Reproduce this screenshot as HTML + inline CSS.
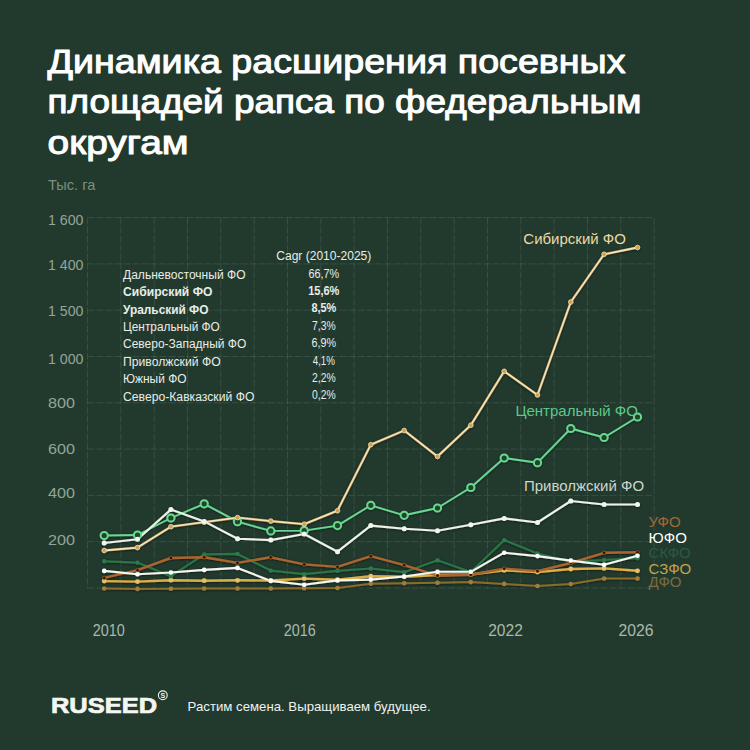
<!DOCTYPE html>
<html lang="ru"><head><meta charset="utf-8"><title>Динамика расширения посевных площадей рапса</title>
<style>
html,body{margin:0;padding:0;background:#223a2e;}
body{width:750px;height:750px;overflow:hidden;position:relative;}
svg{position:absolute;left:0;top:0;display:block;}
text{font-family:"Liberation Sans",Arial,sans-serif;}
.t{font-size:33px;fill:#ffffff;stroke:#ffffff;stroke-width:1.0px;stroke-linejoin:round;}
.g{stroke:#ffffff;stroke-opacity:0.10;stroke-width:1;stroke-dasharray:7 2;}
.yl{font-size:15.5px;fill:#93a596;}
.xl{font-size:16px;fill:#a9b9aa;}
.tb{font-size:12.5px;fill:#e8ede8;}
.b{font-weight:bold;}
.v{font-size:12px;}
.sl{font-size:15px;}
</style></head><body>
<svg width="750" height="750" viewBox="0 0 750 750">
<defs><filter id="sh" x="-5%" y="-5%" width="110%" height="110%"><feDropShadow dx="0" dy="0.5" stdDeviation="0.9" flood-color="#0a160f" flood-opacity="0.7"/></filter></defs>
<rect width="750" height="750" fill="#223a2e"/>
<text x="47.5" y="73.3" class="t" textLength="578" lengthAdjust="spacingAndGlyphs">Динамика расширения посевных</text>
<text x="47.5" y="113.3" class="t" textLength="594" lengthAdjust="spacingAndGlyphs">площадей рапса по федеральным</text>
<text x="47.5" y="153.5" class="t" textLength="141" lengthAdjust="spacingAndGlyphs">округам</text>
<text x="48" y="190.3" style="font-size:15px;fill:#7c8f80" textLength="47.3" lengthAdjust="spacingAndGlyphs">Тыс. га</text>
<line x1="87.5" y1="588.0" x2="654.2" y2="588.0" class="g"/>
<line x1="87.5" y1="541.7" x2="654.2" y2="541.7" class="g"/>
<line x1="87.5" y1="495.4" x2="654.2" y2="495.4" class="g"/>
<line x1="87.5" y1="449.1" x2="654.2" y2="449.1" class="g"/>
<line x1="87.5" y1="402.8" x2="654.2" y2="402.8" class="g"/>
<line x1="87.5" y1="356.5" x2="654.2" y2="356.5" class="g"/>
<line x1="87.5" y1="310.2" x2="654.2" y2="310.2" class="g"/>
<line x1="87.5" y1="263.9" x2="654.2" y2="263.9" class="g"/>
<line x1="87.5" y1="217.6" x2="654.2" y2="217.6" class="g"/>
<line x1="87.5" y1="217.6" x2="87.5" y2="588" class="g"/>
<line x1="120.8" y1="217.6" x2="120.8" y2="588" class="g"/>
<line x1="154.2" y1="217.6" x2="154.2" y2="588" class="g"/>
<line x1="187.5" y1="217.6" x2="187.5" y2="588" class="g"/>
<line x1="220.8" y1="217.6" x2="220.8" y2="588" class="g"/>
<line x1="254.1" y1="217.6" x2="254.1" y2="588" class="g"/>
<line x1="287.5" y1="217.6" x2="287.5" y2="588" class="g"/>
<line x1="320.8" y1="217.6" x2="320.8" y2="588" class="g"/>
<line x1="354.1" y1="217.6" x2="354.1" y2="588" class="g"/>
<line x1="387.5" y1="217.6" x2="387.5" y2="588" class="g"/>
<line x1="420.8" y1="217.6" x2="420.8" y2="588" class="g"/>
<line x1="454.1" y1="217.6" x2="454.1" y2="588" class="g"/>
<line x1="487.5" y1="217.6" x2="487.5" y2="588" class="g"/>
<line x1="520.8" y1="217.6" x2="520.8" y2="588" class="g"/>
<line x1="554.1" y1="217.6" x2="554.1" y2="588" class="g"/>
<line x1="587.5" y1="217.6" x2="587.5" y2="588" class="g"/>
<line x1="620.8" y1="217.6" x2="620.8" y2="588" class="g"/>
<line x1="654.1" y1="217.6" x2="654.1" y2="588" class="g"/>
<text x="48" y="225.0" class="yl" textLength="35.5" lengthAdjust="spacingAndGlyphs">1 600</text>
<text x="48" y="269.8" class="yl" textLength="35.5" lengthAdjust="spacingAndGlyphs">1 400</text>
<text x="48" y="315.7" class="yl" textLength="35.5" lengthAdjust="spacingAndGlyphs">1 500</text>
<text x="48" y="363.8" class="yl" textLength="35.5" lengthAdjust="spacingAndGlyphs">1 000</text>
<text x="48" y="408.1" class="yl" textLength="27" lengthAdjust="spacingAndGlyphs">800</text>
<text x="48" y="454.0" class="yl" textLength="27" lengthAdjust="spacingAndGlyphs">600</text>
<text x="48" y="498.2" class="yl" textLength="27" lengthAdjust="spacingAndGlyphs">400</text>
<text x="48" y="545.1" class="yl" textLength="27" lengthAdjust="spacingAndGlyphs">200</text>
<text x="323.8" y="260" class="tb" text-anchor="middle" textLength="95" lengthAdjust="spacingAndGlyphs">Cagr (2010-2025)</text>
<text x="123" y="278.8" class="tb" textLength="122.5" lengthAdjust="spacingAndGlyphs">Дальневосточный ФО</text>
<text x="323.8" y="277.6" class="tb v" text-anchor="middle" textLength="30.8" lengthAdjust="spacingAndGlyphs">66,7%</text>
<text x="123" y="296.2" class="tb b" textLength="89.5" lengthAdjust="spacingAndGlyphs">Сибирский ФО</text>
<text x="323.8" y="295.0" class="tb b v" text-anchor="middle" textLength="31.2" lengthAdjust="spacingAndGlyphs">15,6%</text>
<text x="123" y="313.6" class="tb b" textLength="85.5" lengthAdjust="spacingAndGlyphs">Уральский ФО</text>
<text x="323.8" y="312.4" class="tb b v" text-anchor="middle" textLength="24.8" lengthAdjust="spacingAndGlyphs">8,5%</text>
<text x="123" y="330.9" class="tb" textLength="96.8" lengthAdjust="spacingAndGlyphs">Центральный ФО</text>
<text x="323.8" y="329.7" class="tb v" text-anchor="middle" textLength="23.6" lengthAdjust="spacingAndGlyphs">7,3%</text>
<text x="123" y="348.3" class="tb" textLength="123.3" lengthAdjust="spacingAndGlyphs">Северо-Западный ФО</text>
<text x="323.8" y="347.1" class="tb v" text-anchor="middle" textLength="24.6" lengthAdjust="spacingAndGlyphs">6,9%</text>
<text x="123" y="365.7" class="tb" textLength="97.7" lengthAdjust="spacingAndGlyphs">Приволжский ФО</text>
<text x="323.8" y="364.5" class="tb v" text-anchor="middle" textLength="22.2" lengthAdjust="spacingAndGlyphs">4,1%</text>
<text x="123" y="383.1" class="tb" textLength="63.5" lengthAdjust="spacingAndGlyphs">Южный ФО</text>
<text x="323.8" y="381.9" class="tb v" text-anchor="middle" textLength="23.6" lengthAdjust="spacingAndGlyphs">2,2%</text>
<text x="123" y="400.5" class="tb" textLength="131.4" lengthAdjust="spacingAndGlyphs">Северо-Кавказский ФО</text>
<text x="323.8" y="399.3" class="tb v" text-anchor="middle" textLength="23.6" lengthAdjust="spacingAndGlyphs">0,2%</text>
<g filter="url(#sh)">
<polyline points="104.2,588.5 137.5,588.9 170.9,588.7 204.2,588.5 237.5,588.5 270.8,588.5 304.2,588.3 337.5,588.0 370.8,583.7 404.2,583.2 437.5,582.7 470.8,582.1 504.2,583.9 537.5,586.0 570.8,584.0 604.1,578.6 637.5,578.6" fill="none" stroke="#8a6c2c" stroke-width="2.0" stroke-linejoin="round" stroke-linecap="round"/>
<polyline points="104.2,581.1 137.5,581.6 170.9,580.2 204.2,580.7 237.5,580.3 270.8,580.5 304.2,578.6 337.5,579.7 370.8,576.2 404.2,576.8 437.5,575.0 470.8,574.5 504.2,570.3 537.5,572.1 570.8,569.0 604.1,568.4 637.5,570.8" fill="none" stroke="#dcae44" stroke-width="2.4" stroke-linejoin="round" stroke-linecap="round"/>
<polyline points="104.2,561.3 137.5,562.6 170.9,576.2 204.2,554.4 237.5,553.9 270.8,570.6 304.2,574.2 337.5,570.9 370.8,568.5 404.2,572.2 437.5,560.2 470.8,572.0 504.2,540.1 537.5,553.5 570.8,561.8 604.1,560.0 637.5,558.2" fill="none" stroke="#297446" stroke-width="2.2" stroke-linejoin="round" stroke-linecap="round"/>
<polyline points="104.2,577.9 137.5,570.1 170.9,558.0 204.2,557.3 237.5,562.9 270.8,557.3 304.2,564.4 337.5,566.9 370.8,556.2 404.2,565.1 437.5,575.7 470.8,574.7 504.2,568.6 537.5,571.1 570.8,563.0 604.1,552.8 637.5,552.2" fill="none" stroke="#a9652e" stroke-width="2.4" stroke-linejoin="round" stroke-linecap="round"/>
<polyline points="104.2,570.9 137.5,574.3 170.9,572.5 204.2,569.9 237.5,567.9 270.8,580.9 304.2,584.7 337.5,580.4 370.8,579.6 404.2,576.5 437.5,571.8 470.8,571.8 504.2,552.7 537.5,556.1 570.8,560.6 604.1,564.8 637.5,555.8" fill="none" stroke="#f2f5f0" stroke-width="2.1" stroke-linejoin="round" stroke-linecap="round"/>
<polyline points="104.2,535.5 137.5,535.0 170.9,518.0 204.2,503.8 237.5,521.7 270.8,530.9 304.2,530.6 337.5,525.6 370.8,505.3 404.2,515.3 437.5,508.0 470.8,487.5 504.2,458.0 537.5,462.7 570.8,428.5 604.1,437.5 637.5,417.0" fill="none" stroke="#68d892" stroke-width="1.9" stroke-linejoin="round" stroke-linecap="round"/>
<polyline points="104.2,550.5 137.5,547.6 170.9,526.7 204.2,522.2 237.5,517.6 270.8,521.1 304.2,524.2 337.5,510.7 370.8,444.7 404.2,430.5 437.5,456.5 470.8,425.2 504.2,371.3 537.5,395.0 570.8,302.0 604.1,254.3 637.5,247.5" fill="none" stroke="#8a7040" stroke-width="2.6" stroke-linejoin="round" stroke-linecap="round"/>
<polyline points="104.2,550.5 137.5,547.6 170.9,526.7 204.2,522.2 237.5,517.6 270.8,521.1 304.2,524.2 337.5,510.7 370.8,444.7 404.2,430.5 437.5,456.5 470.8,425.2 504.2,371.3 537.5,395.0 570.8,302.0 604.1,254.3 637.5,247.5" fill="none" stroke="#f3e4b8" stroke-width="1.8" stroke-linejoin="round" stroke-linecap="round"/>
<polyline points="104.2,543.0 137.5,539.3 170.9,509.6 204.2,521.4 237.5,538.7 270.8,540.1 304.2,534.0 337.5,551.7 370.8,525.6 404.2,528.7 437.5,530.7 470.8,524.7 504.2,518.4 537.5,522.5 570.8,501.0 604.1,504.5 637.5,504.5" fill="none" stroke="#ebf2e6" stroke-width="2.1" stroke-linejoin="round" stroke-linecap="round"/>
<circle cx="104.2" cy="588.5" r="2.3" fill="#9c7e3c"/>
<circle cx="137.5" cy="588.9" r="2.3" fill="#9c7e3c"/>
<circle cx="170.9" cy="588.7" r="2.3" fill="#9c7e3c"/>
<circle cx="204.2" cy="588.5" r="2.3" fill="#9c7e3c"/>
<circle cx="237.5" cy="588.5" r="2.3" fill="#9c7e3c"/>
<circle cx="270.8" cy="588.5" r="2.3" fill="#9c7e3c"/>
<circle cx="304.2" cy="588.3" r="2.3" fill="#9c7e3c"/>
<circle cx="337.5" cy="588.0" r="2.3" fill="#9c7e3c"/>
<circle cx="370.8" cy="583.7" r="2.3" fill="#9c7e3c"/>
<circle cx="404.2" cy="583.2" r="2.3" fill="#9c7e3c"/>
<circle cx="437.5" cy="582.7" r="2.3" fill="#9c7e3c"/>
<circle cx="470.8" cy="582.1" r="2.3" fill="#9c7e3c"/>
<circle cx="504.2" cy="583.9" r="2.3" fill="#9c7e3c"/>
<circle cx="537.5" cy="586.0" r="2.3" fill="#9c7e3c"/>
<circle cx="570.8" cy="584.0" r="2.3" fill="#9c7e3c"/>
<circle cx="604.1" cy="578.6" r="2.3" fill="#9c7e3c"/>
<circle cx="637.5" cy="578.6" r="2.3" fill="#9c7e3c"/>
<circle cx="104.2" cy="581.1" r="2.4" fill="#e6c069"/>
<circle cx="137.5" cy="581.6" r="2.4" fill="#e6c069"/>
<circle cx="170.9" cy="580.2" r="2.4" fill="#e6c069"/>
<circle cx="204.2" cy="580.7" r="2.4" fill="#e6c069"/>
<circle cx="237.5" cy="580.3" r="2.4" fill="#e6c069"/>
<circle cx="270.8" cy="580.5" r="2.4" fill="#e6c069"/>
<circle cx="304.2" cy="578.6" r="2.4" fill="#e6c069"/>
<circle cx="337.5" cy="579.7" r="2.4" fill="#e6c069"/>
<circle cx="370.8" cy="576.2" r="2.4" fill="#e6c069"/>
<circle cx="404.2" cy="576.8" r="2.4" fill="#e6c069"/>
<circle cx="437.5" cy="575.0" r="2.4" fill="#e6c069"/>
<circle cx="470.8" cy="574.5" r="2.4" fill="#e6c069"/>
<circle cx="504.2" cy="570.3" r="2.4" fill="#e6c069"/>
<circle cx="537.5" cy="572.1" r="2.4" fill="#e6c069"/>
<circle cx="570.8" cy="569.0" r="2.4" fill="#e6c069"/>
<circle cx="604.1" cy="568.4" r="2.4" fill="#e6c069"/>
<circle cx="637.5" cy="570.8" r="2.4" fill="#e6c069"/>
<circle cx="104.2" cy="561.3" r="2.2" fill="#2b7a4b"/>
<circle cx="137.5" cy="562.6" r="2.2" fill="#2b7a4b"/>
<circle cx="170.9" cy="576.2" r="2.2" fill="#2b7a4b"/>
<circle cx="204.2" cy="554.4" r="2.2" fill="#2b7a4b"/>
<circle cx="237.5" cy="553.9" r="2.2" fill="#2b7a4b"/>
<circle cx="270.8" cy="570.6" r="2.2" fill="#2b7a4b"/>
<circle cx="304.2" cy="574.2" r="2.2" fill="#2b7a4b"/>
<circle cx="337.5" cy="570.9" r="2.2" fill="#2b7a4b"/>
<circle cx="370.8" cy="568.5" r="2.2" fill="#2b7a4b"/>
<circle cx="404.2" cy="572.2" r="2.2" fill="#2b7a4b"/>
<circle cx="437.5" cy="560.2" r="2.2" fill="#2b7a4b"/>
<circle cx="470.8" cy="572.0" r="2.2" fill="#2b7a4b"/>
<circle cx="504.2" cy="540.1" r="2.2" fill="#2b7a4b"/>
<circle cx="537.5" cy="553.5" r="2.2" fill="#2b7a4b"/>
<circle cx="570.8" cy="561.8" r="2.2" fill="#2b7a4b"/>
<circle cx="604.1" cy="560.0" r="2.2" fill="#2b7a4b"/>
<circle cx="637.5" cy="558.2" r="2.2" fill="#2b7a4b"/>
<circle cx="104.2" cy="577.9" r="1.7" fill="#2a0c06" stroke="#a9652e" stroke-width="0.7"/>
<circle cx="137.5" cy="570.1" r="1.7" fill="#2a0c06" stroke="#a9652e" stroke-width="0.7"/>
<circle cx="170.9" cy="558.0" r="1.7" fill="#2a0c06" stroke="#a9652e" stroke-width="0.7"/>
<circle cx="204.2" cy="557.3" r="1.7" fill="#2a0c06" stroke="#a9652e" stroke-width="0.7"/>
<circle cx="237.5" cy="562.9" r="1.7" fill="#2a0c06" stroke="#a9652e" stroke-width="0.7"/>
<circle cx="270.8" cy="557.3" r="1.7" fill="#2a0c06" stroke="#a9652e" stroke-width="0.7"/>
<circle cx="304.2" cy="564.4" r="1.7" fill="#2a0c06" stroke="#a9652e" stroke-width="0.7"/>
<circle cx="337.5" cy="566.9" r="1.7" fill="#2a0c06" stroke="#a9652e" stroke-width="0.7"/>
<circle cx="370.8" cy="556.2" r="1.7" fill="#2a0c06" stroke="#a9652e" stroke-width="0.7"/>
<circle cx="404.2" cy="565.1" r="1.7" fill="#2a0c06" stroke="#a9652e" stroke-width="0.7"/>
<circle cx="437.5" cy="575.7" r="1.7" fill="#2a0c06" stroke="#a9652e" stroke-width="0.7"/>
<circle cx="470.8" cy="574.7" r="1.7" fill="#2a0c06" stroke="#a9652e" stroke-width="0.7"/>
<circle cx="504.2" cy="568.6" r="1.7" fill="#2a0c06" stroke="#a9652e" stroke-width="0.7"/>
<circle cx="537.5" cy="571.1" r="1.7" fill="#2a0c06" stroke="#a9652e" stroke-width="0.7"/>
<circle cx="570.8" cy="563.0" r="1.7" fill="#2a0c06" stroke="#a9652e" stroke-width="0.7"/>
<circle cx="604.1" cy="552.8" r="1.7" fill="#2a0c06" stroke="#a9652e" stroke-width="0.7"/>
<circle cx="637.5" cy="552.2" r="1.7" fill="#2a0c06" stroke="#a9652e" stroke-width="0.7"/>
<circle cx="104.2" cy="570.9" r="2.3" fill="#ffffff"/>
<circle cx="137.5" cy="574.3" r="2.3" fill="#ffffff"/>
<circle cx="170.9" cy="572.5" r="2.3" fill="#ffffff"/>
<circle cx="204.2" cy="569.9" r="2.3" fill="#ffffff"/>
<circle cx="237.5" cy="567.9" r="2.3" fill="#ffffff"/>
<circle cx="270.8" cy="580.9" r="2.3" fill="#ffffff"/>
<circle cx="304.2" cy="584.7" r="2.3" fill="#ffffff"/>
<circle cx="337.5" cy="580.4" r="2.3" fill="#ffffff"/>
<circle cx="370.8" cy="579.6" r="2.3" fill="#ffffff"/>
<circle cx="404.2" cy="576.5" r="2.3" fill="#ffffff"/>
<circle cx="437.5" cy="571.8" r="2.3" fill="#ffffff"/>
<circle cx="470.8" cy="571.8" r="2.3" fill="#ffffff"/>
<circle cx="504.2" cy="552.7" r="2.3" fill="#ffffff"/>
<circle cx="537.5" cy="556.1" r="2.3" fill="#ffffff"/>
<circle cx="570.8" cy="560.6" r="2.3" fill="#ffffff"/>
<circle cx="604.1" cy="564.8" r="2.3" fill="#ffffff"/>
<circle cx="637.5" cy="555.8" r="2.3" fill="#ffffff"/>
<circle cx="104.2" cy="535.5" r="3.6" fill="#22452c" stroke="#66d890" stroke-width="2.0"/>
<circle cx="137.5" cy="535.0" r="3.6" fill="#22452c" stroke="#66d890" stroke-width="2.0"/>
<circle cx="170.9" cy="518.0" r="3.6" fill="#22452c" stroke="#66d890" stroke-width="2.0"/>
<circle cx="204.2" cy="503.8" r="3.6" fill="#22452c" stroke="#66d890" stroke-width="2.0"/>
<circle cx="237.5" cy="521.7" r="3.6" fill="#22452c" stroke="#66d890" stroke-width="2.0"/>
<circle cx="270.8" cy="530.9" r="3.6" fill="#22452c" stroke="#66d890" stroke-width="2.0"/>
<circle cx="304.2" cy="530.6" r="3.6" fill="#22452c" stroke="#66d890" stroke-width="2.0"/>
<circle cx="337.5" cy="525.6" r="3.6" fill="#22452c" stroke="#66d890" stroke-width="2.0"/>
<circle cx="370.8" cy="505.3" r="3.6" fill="#22452c" stroke="#66d890" stroke-width="2.0"/>
<circle cx="404.2" cy="515.3" r="3.6" fill="#22452c" stroke="#66d890" stroke-width="2.0"/>
<circle cx="437.5" cy="508.0" r="3.6" fill="#22452c" stroke="#66d890" stroke-width="2.0"/>
<circle cx="470.8" cy="487.5" r="3.6" fill="#22452c" stroke="#66d890" stroke-width="2.0"/>
<circle cx="504.2" cy="458.0" r="3.6" fill="#22452c" stroke="#66d890" stroke-width="2.0"/>
<circle cx="537.5" cy="462.7" r="3.6" fill="#22452c" stroke="#66d890" stroke-width="2.0"/>
<circle cx="570.8" cy="428.5" r="3.6" fill="#22452c" stroke="#66d890" stroke-width="2.0"/>
<circle cx="604.1" cy="437.5" r="3.6" fill="#22452c" stroke="#66d890" stroke-width="2.0"/>
<circle cx="637.5" cy="417.0" r="3.6" fill="#22452c" stroke="#66d890" stroke-width="2.0"/>
<circle cx="104.2" cy="550.5" r="2.3" fill="#cfa250" stroke="#efdfb6" stroke-width="0.8"/>
<circle cx="137.5" cy="547.6" r="2.3" fill="#cfa250" stroke="#efdfb6" stroke-width="0.8"/>
<circle cx="170.9" cy="526.7" r="2.3" fill="#cfa250" stroke="#efdfb6" stroke-width="0.8"/>
<circle cx="204.2" cy="522.2" r="2.3" fill="#cfa250" stroke="#efdfb6" stroke-width="0.8"/>
<circle cx="237.5" cy="517.6" r="2.3" fill="#cfa250" stroke="#efdfb6" stroke-width="0.8"/>
<circle cx="270.8" cy="521.1" r="2.3" fill="#cfa250" stroke="#efdfb6" stroke-width="0.8"/>
<circle cx="304.2" cy="524.2" r="2.3" fill="#cfa250" stroke="#efdfb6" stroke-width="0.8"/>
<circle cx="337.5" cy="510.7" r="2.3" fill="#cfa250" stroke="#efdfb6" stroke-width="0.8"/>
<circle cx="370.8" cy="444.7" r="2.3" fill="#cfa250" stroke="#efdfb6" stroke-width="0.8"/>
<circle cx="404.2" cy="430.5" r="2.3" fill="#cfa250" stroke="#efdfb6" stroke-width="0.8"/>
<circle cx="437.5" cy="456.5" r="2.3" fill="#cfa250" stroke="#efdfb6" stroke-width="0.8"/>
<circle cx="470.8" cy="425.2" r="2.3" fill="#cfa250" stroke="#efdfb6" stroke-width="0.8"/>
<circle cx="504.2" cy="371.3" r="2.3" fill="#cfa250" stroke="#efdfb6" stroke-width="0.8"/>
<circle cx="537.5" cy="395.0" r="2.3" fill="#cfa250" stroke="#efdfb6" stroke-width="0.8"/>
<circle cx="570.8" cy="302.0" r="2.3" fill="#cfa250" stroke="#efdfb6" stroke-width="0.8"/>
<circle cx="604.1" cy="254.3" r="2.3" fill="#cfa250" stroke="#efdfb6" stroke-width="0.8"/>
<circle cx="637.5" cy="247.5" r="2.3" fill="#cfa250" stroke="#efdfb6" stroke-width="0.8"/>
<circle cx="104.2" cy="543.0" r="2.5" fill="#f2f7ee"/>
<circle cx="137.5" cy="539.3" r="2.5" fill="#f2f7ee"/>
<circle cx="170.9" cy="509.6" r="2.5" fill="#f2f7ee"/>
<circle cx="204.2" cy="521.4" r="2.5" fill="#f2f7ee"/>
<circle cx="237.5" cy="538.7" r="2.5" fill="#f2f7ee"/>
<circle cx="270.8" cy="540.1" r="2.5" fill="#f2f7ee"/>
<circle cx="304.2" cy="534.0" r="2.5" fill="#f2f7ee"/>
<circle cx="337.5" cy="551.7" r="2.5" fill="#f2f7ee"/>
<circle cx="370.8" cy="525.6" r="2.5" fill="#f2f7ee"/>
<circle cx="404.2" cy="528.7" r="2.5" fill="#f2f7ee"/>
<circle cx="437.5" cy="530.7" r="2.5" fill="#f2f7ee"/>
<circle cx="470.8" cy="524.7" r="2.5" fill="#f2f7ee"/>
<circle cx="504.2" cy="518.4" r="2.5" fill="#f2f7ee"/>
<circle cx="537.5" cy="522.5" r="2.5" fill="#f2f7ee"/>
<circle cx="570.8" cy="501.0" r="2.5" fill="#f2f7ee"/>
<circle cx="604.1" cy="504.5" r="2.5" fill="#f2f7ee"/>
<circle cx="637.5" cy="504.5" r="2.5" fill="#f2f7ee"/>
</g>
<text x="523.3" y="243.8" class="sl" fill="#ecd9a6">Сибирский ФО</text>
<text x="515.4" y="416.3" class="sl" fill="#5cc98a">Центральный ФО</text>
<text x="523.9" y="490.6" class="sl" fill="#cdd6cc">Приволжский ФО</text>
<text x="648.6" y="527.2" class="sl" fill="#a36836">УФО</text>
<text x="648.6" y="542.8" class="sl" fill="#ffffff">ЮФО</text>
<text x="648.6" y="557.8" class="sl" fill="#285a42">СКФО</text>
<text x="648.6" y="574" class="sl" fill="#c4a24c">СЗФО</text>
<text x="648.6" y="587.2" class="sl" fill="#7c6c3c">ДФО</text>
<text x="92.8" y="636" class="xl" textLength="32" lengthAdjust="spacingAndGlyphs">2010</text>
<text x="283.8" y="636" class="xl" textLength="32" lengthAdjust="spacingAndGlyphs">2016</text>
<text x="488.2" y="635.5" class="xl" textLength="34.6" lengthAdjust="spacingAndGlyphs">2022</text>
<text x="618.4" y="635.5" class="xl" textLength="35" lengthAdjust="spacingAndGlyphs">2026</text>
<text x="51" y="713" style="font-size:22px;font-weight:bold;fill:#f4f6f2;stroke:#f4f6f2;stroke-width:0.7px" textLength="106" lengthAdjust="spacingAndGlyphs">RUSEED</text>
<circle cx="162.8" cy="695.3" r="4.4" fill="none" stroke="#f4f6f2" stroke-width="1.1"/>
<text x="162.8" y="697.8" text-anchor="middle" style="font-size:7px;font-weight:bold;fill:#f4f6f2">S</text>
<text x="187.6" y="710.8" style="font-size:13px;fill:#eef2ee" textLength="243" lengthAdjust="spacingAndGlyphs">Растим семена. Выращиваем будущее.</text>
</svg>
</body></html>
